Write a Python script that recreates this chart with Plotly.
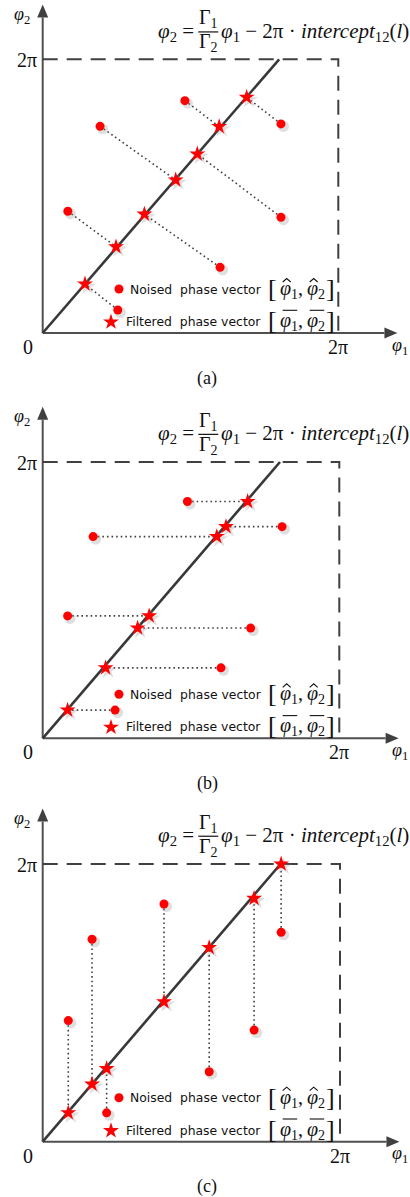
import plotly.graph_objects as go

W, H = 410, 1197

# ---------------- data (phases in units of 2π) ----------------
gamma_ratio = 1.25  # Γ1/Γ2, slope of the constraint line
tick_labels = ["0", "2π"]
panel_labels = ["(a)", "(b)", "(c)"]
legend_labels = ["Noised  phase vector", "Filtered  phase vector"]

# panel (a): orthogonal projection
noised_a_phi1 = [0.481, 0.806, 0.194, 0.806, 0.085, 0.600, 0.254]
noised_a_phi2 = [0.849, 0.764, 0.755, 0.423, 0.445, 0.240, 0.084]
filtered_a_phi1 = [0.597, 0.690, 0.450, 0.523, 0.248, 0.344, 0.143]
filtered_a_phi2 = [0.754, 0.861, 0.559, 0.654, 0.315, 0.434, 0.179]

# panel (b): projection along φ1
noised_b_phi1 = [0.488, 0.807, 0.170, 0.084, 0.701, 0.601, 0.244]
noised_b_phi2 = [0.857, 0.766, 0.730, 0.443, 0.399, 0.255, 0.102]
filtered_b_phi1 = [0.691, 0.618, 0.587, 0.359, 0.320, 0.212, 0.084]
filtered_b_phi2 = [0.857, 0.766, 0.730, 0.443, 0.399, 0.255, 0.102]

# panel (c): projection along φ2
noised_c_phi1 = [0.086, 0.166, 0.215, 0.408, 0.560, 0.711, 0.802]
noised_c_phi2 = [0.436, 0.729, 0.104, 0.856, 0.252, 0.402, 0.754]
filtered_c_phi1 = [0.086, 0.166, 0.215, 0.408, 0.560, 0.711, 0.802]
filtered_c_phi2 = [0.104, 0.207, 0.263, 0.504, 0.699, 0.876, 1.000]

data = [
    (noised_a_phi1, noised_a_phi2, filtered_a_phi1, filtered_a_phi2),
    (noised_b_phi1, noised_b_phi2, filtered_b_phi1, filtered_b_phi2),
    (noised_c_phi1, noised_c_phi2, filtered_c_phi1, filtered_c_phi2),
]

# ---------------- layout (pixel geometry of each panel) ----------------
panels = [
    dict(ox=42.7, oy=333.0, sx=295.6, sy=273.7, top=0, bottom=400),
    dict(ox=42.7, oy=738.3, sx=296.6, sy=276.3, top=400, bottom=800),
    dict(ox=42.7, oy=1141.7, sx=297.3, sy=277.7, top=800, bottom=1197),
]

SERIF = "Liberation Serif, Times New Roman, serif"
SANS = "DejaVu Sans, Verdana, sans-serif"
RED = "#ff0000"
AXC = "#505050"
DARK = "#383838"
TXT = "#111111"

fig = go.Figure()
shapes = []
annotations = []

for i, (p, d) in enumerate(zip(panels, data), start=1):
    xa = "x" if i == 1 else f"x{i}"
    ya = "y" if i == 1 else f"y{i}"
    sx, sy = p["sx"], p["sy"]
    nx, ny, fx, fy = d

    def X(px):  # pixel offset from origin -> data units
        return px / sx

    def Y(py):
        return py / sy

    def txt(x, y, text, size, family=SERIF, xanchor="center", yanchor="middle"):
        annotations.append(dict(xref=xa, yref=ya, x=x, y=y, text=text, showarrow=False,
                                xanchor=xanchor, yanchor=yanchor,
                                font=dict(family=family, size=size, color=TXT)))

    # axis setup so that 1 data unit == 2π
    xr = [(0 - p["ox"]) / sx, (W - p["ox"]) / sx]
    yr = [(p["oy"] - p["bottom"]) / sy, (p["oy"] - p["top"]) / sy]
    dom = [1 - p["bottom"] / H, 1 - p["top"] / H]
    xkey = "xaxis" if i == 1 else f"xaxis{i}"
    ykey = "yaxis" if i == 1 else f"yaxis{i}"
    fig.update_layout(**{
        xkey: dict(domain=[0, 1], range=xr, visible=False, fixedrange=True, anchor=ya),
        ykey: dict(domain=dom, range=yr, visible=False, fixedrange=True, anchor=xa),
    })

    # connectors (dotted)
    cx, cy = [], []
    for a, b, c, e in zip(nx, ny, fx, fy):
        cx += [a, c, None]
        cy += [b, e, None]
    fig.add_trace(go.Scatter(x=cx, y=cy, mode="lines", xaxis=xa, yaxis=ya,
                             line=dict(color="#404040", width=1.6, dash="1.6px,3px"),
                             hoverinfo="skip", showlegend=False))

    # constraint line φ2 = (Γ1/Γ2) φ1
    fig.add_trace(go.Scatter(x=[0, 1 / gamma_ratio], y=[0, 1], mode="lines",
                             xaxis=xa, yaxis=ya, line=dict(color=DARK, width=2.6),
                             hoverinfo="skip", showlegend=False))

    # soft shadows
    dxs, dys = X(2.5), -Y(2.5)
    fig.add_trace(go.Scatter(x=[v + dxs for v in fx], y=[v + dys for v in fy], mode="markers",
                             xaxis=xa, yaxis=ya,
                             marker=dict(symbol="star", size=13, color="rgba(140,140,140,0.28)", line=dict(width=0)),
                             hoverinfo="skip", showlegend=False))
    fig.add_trace(go.Scatter(x=[v + dxs for v in nx], y=[v + dys for v in ny], mode="markers",
                             xaxis=xa, yaxis=ya,
                             marker=dict(symbol="circle", size=11, color="rgba(140,140,140,0.28)", line=dict(width=0)),
                             hoverinfo="skip", showlegend=False))

    # filtered (stars) and noised (circles)
    fig.add_trace(go.Scatter(x=fx, y=fy, mode="markers", xaxis=xa, yaxis=ya,
                             marker=dict(symbol="star", size=12, color=RED, line=dict(width=0)),
                             name=legend_labels[1], showlegend=False))
    fig.add_trace(go.Scatter(x=nx, y=ny, mode="markers", xaxis=xa, yaxis=ya,
                             marker=dict(symbol="circle", size=9, color=RED, line=dict(width=0)),
                             name=legend_labels[0], showlegend=False))

    # in-plot legend glyphs
    fig.add_trace(go.Scatter(x=[X(76.3)], y=[Y(44)], mode="markers", xaxis=xa, yaxis=ya,
                             marker=dict(symbol="circle", size=9, color=RED, line=dict(width=0)),
                             hoverinfo="skip", showlegend=False))
    fig.add_trace(go.Scatter(x=[X(68.3)], y=[Y(11)], mode="markers", xaxis=xa, yaxis=ya,
                             marker=dict(symbol="star", size=12, color=RED, line=dict(width=0)),
                             hoverinfo="skip", showlegend=False))

    # axes with arrowheads
    top = 1.2
    alen_y, alen_x, hw = Y(13), X(13), 5.5
    shapes.append(dict(type="line", xref=xa, yref=ya, x0=0, y0=0, x1=0, y1=top - alen_y,
                       line=dict(color=AXC, width=2), layer="below"))
    shapes.append(dict(type="line", xref=xa, yref=ya, x0=0, y0=0, x1=top - alen_x, y1=0,
                       line=dict(color=AXC, width=2), layer="below"))
    shapes.append(dict(type="path", xref=xa, yref=ya,
                       path=f"M {-X(hw)},{top - alen_y} L 0,{top} L {X(hw)},{top - alen_y} Z",
                       fillcolor="#404040", line=dict(width=0)))
    shapes.append(dict(type="path", xref=xa, yref=ya,
                       path=f"M {top - alen_x},{-Y(hw)} L {top},0 L {top - alen_x},{Y(hw)} Z",
                       fillcolor="#404040", line=dict(width=0)))
    # dashed 2π box
    shapes.append(dict(type="path", xref=xa, yref=ya, path="M 0,1 L 1,1 L 1,0",
                       line=dict(color="#404040", width=2, dash="15px,9px"), layer="below"))

    # tick labels and axis names
    txt(X(-14.5), Y(-14), tick_labels[0], 20)
    txt(X(-16), 1 - Y(1), tick_labels[1], 20)
    txt(1, Y(-14), tick_labels[1], 20)
    txt(X(-21), 1.16, "<i>φ</i><sub>2</sub>", 18)
    txt(X(347), Y(-13), "<i>φ</i><sub>1</sub>", 18, xanchor="left")
    txt(X(164.3), Y(-45), panel_labels[i - 1], 18)

    # equation φ2 = Γ1/Γ2 φ1 − 2π·intercept12(l)
    ey = 1.1
    txt(X(153), ey, "<i>φ</i><sub>2</sub> =", 21, xanchor="right")
    txt(X(165.8), ey + Y(13), "Γ<sub>1</sub>", 20)
    txt(X(165.8), ey - Y(11), "Γ<sub>2</sub>", 20)
    shapes.append(dict(type="line", xref=xa, yref=ya, x0=X(155.6), x1=X(175.6), y0=ey, y1=ey,
                       line=dict(color=TXT, width=1.2)))
    txt(X(176.5), ey, "<i>φ</i><sub>1</sub> − 2π · <i>intercept</i><sub>12</sub>(<i>l</i>)", 21, xanchor="left")

    # legend text
    txt(X(85), Y(44), legend_labels[0], 12.4, family=SANS, xanchor="left")
    txt(X(81), Y(11.5), legend_labels[1], 12.4, family=SANS, xanchor="left")

    # legend math: [φ̂1, φ̂2] and [φ̄1, φ̄2]
    for row_y in (Y(43.5), Y(11.5)):
        txt(X(229.5), row_y + Y(1), "[", 26)
        txt(X(288), row_y + Y(1), "]", 26)
        txt(X(235), row_y, "<i>φ</i><sub>1</sub>,", 20, xanchor="left")
        txt(X(262), row_y, "<i>φ</i><sub>2</sub>", 20, xanchor="left")
    # hats
    for hc in (244, 271):
        shapes.append(dict(type="path", xref=xa, yref=ya,
                           path=f"M {X(hc - 4)},{Y(51)} L {X(hc)},{Y(54.5)} L {X(hc + 4)},{Y(51)}",
                           line=dict(color=TXT, width=1.1)))
    # bars
    for b0, b1 in ((240, 254.5), (267, 281.5)):
        shapes.append(dict(type="line", xref=xa, yref=ya, x0=X(b0), x1=X(b1), y0=Y(22.7), y1=Y(22.7),
                           line=dict(color=TXT, width=1.1)))

fig.update_layout(width=W, height=H, margin=dict(l=0, r=0, t=0, b=0),
                  paper_bgcolor="white", plot_bgcolor="white",
                  shapes=shapes, annotations=annotations, showlegend=False)

fig.write_html("out.html", config=dict(displayModeBar=False))
